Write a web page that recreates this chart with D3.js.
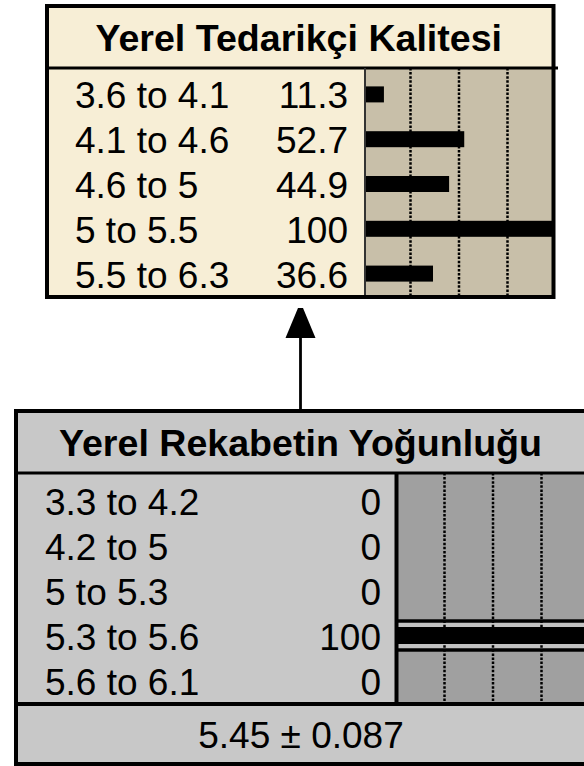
<!DOCTYPE html>
<html>
<head>
<meta charset="utf-8">
<script src="https://cdn.jsdelivr.net/npm/d3@7"></script>
<style>
  body { margin: 0; background: #fff; }
  svg { display: block; }
</style>
</head>
<body>
<div id="svganchor"></div>
<script>
let width = 584;
let height = 766;

// node data
let topTitle = "Yerel Tedarikçi Kalitesi";
let topStates = ["3.6 to 4.1", "4.1 to 4.6", "4.6 to 5", "5 to 5.5", "5.5 to 6.3"];
let topBelief = [11.3, 52.7, 44.9, 100, 36.6];

let bottomTitle = "Yerel Rekabetin Yoğunluğu";
let bottomStates = ["3.3 to 4.2", "4.2 to 5", "5 to 5.3", "5.3 to 5.6", "5.6 to 6.1"];
let bottomBelief = [0, 0, 0, 100, 0];
let bottomFinding = "5.3 to 5.6";
let bottomMean = "5.45 ± 0.087";

let gridTicks = [25, 50, 75];

let font = "'Liberation Sans', Arial, sans-serif";
let fontSize = 37;
let titleSize = 37.6;

let svg = d3.select("#svganchor").append("svg").attr("width", width).attr("height", height);

function addText(g, str, x, y, anchor, bold) {
  g.append("text")
    .attr("x", x)
    .attr("y", y)
    .attr("text-anchor", anchor)
    .attr("font-family", font)
    .attr("font-size", bold ? titleSize : fontSize)
    .attr("font-weight", bold ? "bold" : "normal")
    .attr("fill", "#000")
    .text(str);
}

function drawNode(opt) {
  let g = svg.append("g");
  let rowBottom = opt.meanSep || opt.y1;

  let yScale = d3.scaleBand().domain(opt.states).range(opt.rowRange);
  let xScale = d3.scaleLinear().domain([0, 100]).range(opt.barRange);

  // backgrounds
  g.append("rect").attr("x", opt.x0).attr("y", opt.y0).attr("width", opt.x1 - opt.x0).attr("height", opt.y1 - opt.y0)
    .attr("fill", opt.panel);
  g.append("rect").attr("x", opt.colSep).attr("y", opt.titleSep).attr("width", opt.x1 - opt.colSep).attr("height", rowBottom - opt.titleSep)
    .attr("fill", opt.barBg);

  let clip = "clip-" + opt.id;
  g.append("clipPath").attr("id", clip).append("rect")
    .attr("x", opt.colSep).attr("y", opt.titleSep).attr("width", opt.x1 - opt.colSep).attr("height", rowBottom - opt.titleSep);
  let bars = g.append("g").attr("clip-path", "url(#" + clip + ")");

  // finding band
  if (opt.finding) {
    let fy = yScale(opt.finding) + yScale.bandwidth() / 2;
    bars.append("rect").attr("x", opt.colSep).attr("y", fy - 16).attr("width", opt.x1 - opt.colSep).attr("height", 32)
      .attr("fill", "#c2c2c2");
  }

  // dotted grid
  bars.selectAll(".grid").data(gridTicks).enter().append("line")
    .attr("x1", d => xScale(d)).attr("x2", d => xScale(d))
    .attr("y1", opt.titleSep).attr("y2", rowBottom)
    .attr("stroke", "#000").attr("stroke-width", 2.5).attr("stroke-dasharray", "2.5,1.6");

  if (opt.finding) {
    let fy = yScale(opt.finding) + yScale.bandwidth() / 2;
    [fy - 14.5, fy + 14.5].forEach(function (ly) {
      bars.append("line").attr("x1", opt.colSep).attr("x2", opt.x1).attr("y1", ly).attr("y2", ly)
        .attr("stroke", "#000").attr("stroke-width", 3.5);
    });
  }

  // belief bars
  bars.selectAll(".bar").data(opt.belief).enter().append("rect")
    .attr("x", opt.colSep)
    .attr("y", (d, i) => yScale(opt.states[i]) + yScale.bandwidth() / 2 - opt.barH / 2)
    .attr("width", d => d > 0 ? Math.max(0, xScale(d) - opt.colSep) : 0)
    .attr("height", opt.barH)
    .attr("fill", "#000");

  // labels
  opt.states.forEach(function (s, i) {
    let by = yScale(s) + yScale.bandwidth() / 2 + 14;
    addText(g, s, opt.labelX, by, "start", false);
    addText(g, opt.belief[i], opt.valueX, by, "end", false);
  });

  addText(g, opt.title, (opt.x0 + opt.x1) / 2 - 1.5, opt.titleY, "middle", true);

  if (opt.mean) {
    addText(g, opt.mean, (opt.x0 + opt.x1) / 2 - 1, opt.meanY, "middle", false);
    g.append("line").attr("x1", opt.x0).attr("x2", opt.x1).attr("y1", opt.meanSep).attr("y2", opt.meanSep)
      .attr("stroke", "#000").attr("stroke-width", 4);
  }

  // separators and frame
  g.append("line").attr("x1", opt.x0).attr("x2", opt.titleLineEnd).attr("y1", opt.titleSep).attr("y2", opt.titleSep)
    .attr("stroke", "#000").attr("stroke-width", 3);
  g.append("line").attr("x1", opt.colSep).attr("x2", opt.colSep).attr("y1", opt.titleSep).attr("y2", rowBottom)
    .attr("stroke", opt.colSepColor).attr("stroke-width", opt.colSepW);
  g.append("rect").attr("x", opt.x0).attr("y", opt.y0).attr("width", opt.x1 - opt.x0).attr("height", opt.y1 - opt.y0)
    .attr("fill", "none").attr("stroke", "#000").attr("stroke-width", 4);
}

// link arrow (child -> parent)
svg.append("defs").append("marker")
  .attr("id", "arrow").attr("viewBox", "0 0 30 36").attr("refX", 0).attr("refY", 18)
  .attr("markerWidth", 30).attr("markerHeight", 36).attr("markerUnits", "userSpaceOnUse")
  .attr("orient", "auto")
  .append("path").attr("d", "M0,3 L36,18 L0,33 Z").attr("fill", "#000");

svg.append("line")
  .attr("x1", 300.5).attr("y1", 410).attr("x2", 300.5).attr("y2", 338)
  .attr("stroke", "#000").attr("stroke-width", 2.8)
  .attr("marker-end", "url(#arrow)");

drawNode({
  id: "top",
  title: topTitle, states: topStates, belief: topBelief,
  x0: 47, x1: 553.5, y0: 6, y1: 297,
  titleSep: 68, titleLineEnd: 558, titleY: 50.5,
  colSep: 365, colSepW: 2, colSepColor: "#333",
  rowRange: [72, 296], barRange: [362, 556], barH: 16,
  labelX: 75, valueX: 348,
  panel: "#f7eed6", barBg: "#c8bfa9"
});

drawNode({
  id: "bottom",
  title: bottomTitle, states: bottomStates, belief: bottomBelief, finding: bottomFinding,
  mean: bottomMean, meanSep: 704, meanY: 748,
  x0: 16, x1: 588, y0: 411, y1: 764,
  titleSep: 473, titleLineEnd: 588, titleY: 455.5,
  colSep: 396.5, colSepW: 4, colSepColor: "#000",
  rowRange: [478, 703], barRange: [396, 590], barH: 17,
  labelX: 45, valueX: 381,
  panel: "#c8c8c8", barBg: "#a0a0a0"
});
</script>
</body>
</html>
